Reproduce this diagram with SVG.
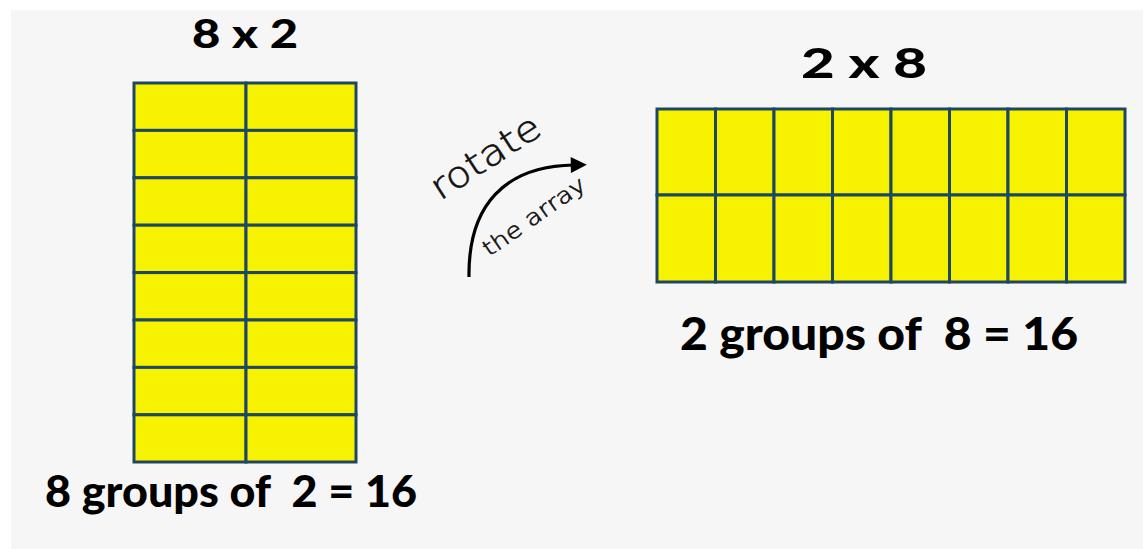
<svg xmlns="http://www.w3.org/2000/svg" width="1143" height="549" viewBox="0 0 1143 549">
  <style>
    .cell { fill: #f7f200; stroke: #1e4862; stroke-width: 3; }
    .title { font-family: Lato, "Liberation Sans", sans-serif; font-weight: 900; fill: #000; }
    .eq { font-family: Lato, "Liberation Sans", sans-serif; font-weight: 900; fill: #000; white-space: pre; }
    .hand { font-family: "DejaVu Sans", sans-serif; font-weight: 200; fill: #111; stroke: #111; stroke-width: 0.6; }
  </style>
  <defs>
    <marker id="arrow" viewBox="0 0 10 10" refX="2" refY="5" markerWidth="5.5" markerHeight="5" orient="auto" markerUnits="strokeWidth">
      <path d="M0,0 L10,5 L0,10 z" fill="#000"/>
    </marker>
  </defs>
  <rect x="0" y="0" width="1143" height="549" fill="#ffffff"/>
  <rect x="11" y="10" width="1132" height="539" fill="#f6f6f6"/>

  <g id="left-array">
    <text class="title" x="192" y="48" font-size="39" textLength="106" lengthAdjust="spacingAndGlyphs">8 x 2</text>
    <g>
      <rect class="cell" x="134" y="83" width="112" height="47.4"/>
      <rect class="cell" x="246" y="83" width="110" height="47.4"/>
      <rect class="cell" x="134" y="130.4" width="112" height="47.4"/>
      <rect class="cell" x="246" y="130.4" width="110" height="47.4"/>
      <rect class="cell" x="134" y="177.8" width="112" height="47.4"/>
      <rect class="cell" x="246" y="177.8" width="110" height="47.4"/>
      <rect class="cell" x="134" y="225.2" width="112" height="47.4"/>
      <rect class="cell" x="246" y="225.2" width="110" height="47.4"/>
      <rect class="cell" x="134" y="272.6" width="112" height="47.4"/>
      <rect class="cell" x="246" y="272.6" width="110" height="47.4"/>
      <rect class="cell" x="134" y="320" width="112" height="47.4"/>
      <rect class="cell" x="246" y="320" width="110" height="47.4"/>
      <rect class="cell" x="134" y="367.4" width="112" height="47.4"/>
      <rect class="cell" x="246" y="367.4" width="110" height="47.4"/>
      <rect class="cell" x="134" y="414.8" width="112" height="47.2"/>
      <rect class="cell" x="246" y="414.8" width="110" height="47.2"/>
    </g>
    <text class="eq" x="45" y="507" font-size="43" textLength="372" lengthAdjust="spacingAndGlyphs">8 groups of  2 = 16</text>
  </g>

  <g id="rotate-arrow">
    <path d="M469,277 C468,205 505,166 574,165" fill="none" stroke="#000" stroke-width="3.2" marker-end="url(#arrow)"/>
    <text class="hand" font-size="36" transform="translate(440,201) rotate(-33)" textLength="124" lengthAdjust="spacingAndGlyphs">rotate</text>
    <text class="hand" font-size="22" transform="translate(489,257) rotate(-35)" textLength="120" lengthAdjust="spacingAndGlyphs">the array</text>
  </g>

  <g id="right-array">
    <text class="title" x="801" y="78" font-size="41" textLength="126" lengthAdjust="spacingAndGlyphs">2 x 8</text>
    <g>
      <rect class="cell" x="657" y="109" width="58.5" height="86"/>
      <rect class="cell" x="715.5" y="109" width="58.5" height="86"/>
      <rect class="cell" x="774" y="109" width="58.5" height="86"/>
      <rect class="cell" x="832.5" y="109" width="58.5" height="86"/>
      <rect class="cell" x="891" y="109" width="58.5" height="86"/>
      <rect class="cell" x="949.5" y="109" width="58.5" height="86"/>
      <rect class="cell" x="1008" y="109" width="58.5" height="86"/>
      <rect class="cell" x="1066.5" y="109" width="58.5" height="86"/>
      <rect class="cell" x="657" y="195" width="58.5" height="87"/>
      <rect class="cell" x="715.5" y="195" width="58.5" height="87"/>
      <rect class="cell" x="774" y="195" width="58.5" height="87"/>
      <rect class="cell" x="832.5" y="195" width="58.5" height="87"/>
      <rect class="cell" x="891" y="195" width="58.5" height="87"/>
      <rect class="cell" x="949.5" y="195" width="58.5" height="87"/>
      <rect class="cell" x="1008" y="195" width="58.5" height="87"/>
      <rect class="cell" x="1066.5" y="195" width="58.5" height="87"/>
    </g>
    <text class="eq" x="680" y="350" font-size="45" textLength="398" lengthAdjust="spacingAndGlyphs">2 groups of  8 = 16</text>
  </g>
</svg>
